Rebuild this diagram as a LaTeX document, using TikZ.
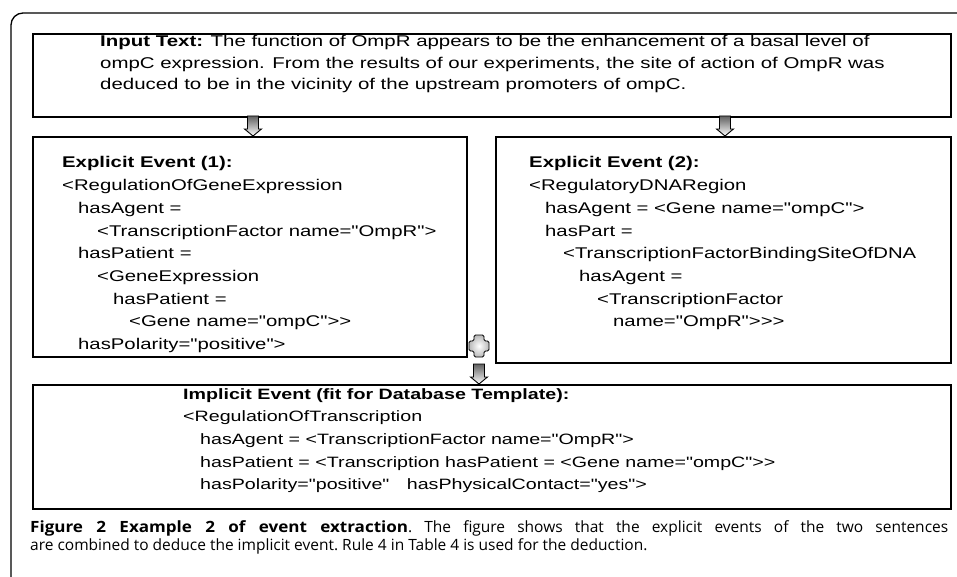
\documentclass[tikz,border=0pt]{standalone}
\usepackage{fontspec}
\setmainfont{Liberation Sans}[Ligatures=TeXOff, FakeStretch=1.31]
\newfontfamily\capfont{Open Sans}
\usetikzlibrary{calc}
\newcommand\ind[1]{\hspace*{#1pt}}
\begin{document}
\begin{tikzpicture}[x=1pt,y=-1pt,
  box/.style={draw=black, line width=1.8pt, inner sep=0pt, anchor=north west},
  txt/.style={anchor=base west, inner sep=0pt, font=\fontsize{15.5}{22.7}\selectfont},
  captxt/.style={anchor=base west, inner sep=0pt, font=\capfont\fontsize{15.5}{18}\selectfont\frenchspacing},
  blockdown/.pic={
    \shade[draw=black, line width=0.9pt, top color=gray!75!black, bottom color=white]
      (-5.5,0) -- (5.5,0) -- (5.5,13) -- (8.5,13) -- (0,20) -- (-8.5,13) -- (-5.5,13) -- cycle;
  },
  plussign/.pic={
    \shade[draw=black, line width=0.9pt, inner color=white, outer color=gray!55, rounded corners=1.5pt]
      (-5,-11) -- (5,-11) -- (5,-5) -- (10,-5) -- (10,5) -- (5,5) -- (5,11) -- (-5,11) -- (-5,5)
      -- (-10,5) -- (-10,-5) -- (-5,-5) -- cycle;
  }]
\useasboundingbox (0,0) rectangle (957,577);
% outer frame
\draw[line width=1.3pt, rounded corners=12pt] (11,577) -- (11,13) -- (957,13);

% boxes
\node[box, minimum width=918pt, minimum height=83pt] (input) at (32,33) {};
\node[box, minimum width=434pt, minimum height=220pt] (e1) at (32,136) {};
\node[box, minimum width=455pt, minimum height=226pt] (e2) at (495,136) {};
\node[box, minimum width=918pt, minimum height=124pt] (impl) at (32,384) {};

% texts
\node[txt] (t0) at (100,47) {\parbox[t]{840pt}{\fontsize{15.6}{21.5}\selectfont\raggedright
  \textbf{Input Text:} The function of OmpR appears to be the enhancement of a basal level of\\
  ompC expression. From the results of our experiments, the site of action of OmpR was\\
  deduced to be in the vicinity of the upstream promoters of ompC.}};

\node[txt] (t1) at (62,168) {\parbox[t]{400pt}{\raggedright
  \textbf{Explicit Event (1):}\\
  <RegulationOfGeneExpression\\
  \ind{16}hasAgent =\\
  \ind{35}<TranscriptionFactor name="OmpR">\\
  \ind{16}hasPatient =\\
  \ind{35}<GeneExpression\\
  \ind{51}hasPatient =\\
  \ind{67}<Gene name="ompC">>\\
  \ind{16}hasPolarity="positive">}};

\node[txt] (t2) at (529,168) {\parbox[t]{410pt}{\raggedright
  \textbf{Explicit Event (2):}\\
  <RegulatoryDNARegion\\
  \ind{16}hasAgent = <Gene name="ompC">\\
  \ind{16}hasPart =\\
  \ind{34}<TranscriptionFactorBindingSiteOfDNA\\
  \ind{50}hasAgent =\\
  \ind{68}<TranscriptionFactor\\
  \ind{84}name="OmpR">>>}};

\node[txt] (t3) at (183,399) {\parbox[t]{740pt}{\fontsize{15}{22.7}\selectfont\raggedright
  \textbf{Implicit Event (fit for Database Template):}\\
  <RegulationOfTranscription\\
  \ind{17}hasAgent = <TranscriptionFactor name="OmpR">\\
  \ind{17}hasPatient = <Transcription hasPatient = <Gene name="ompC">>\\
  \ind{17}hasPolarity="positive"\hspace{12pt} hasPhysicalContact="yes">}};

% arrows
\pic at (253,116) {blockdown};
\pic at (725,116) {blockdown};
\pic at (479,346) {plussign};
\pic at (479,364) {blockdown};

% caption
\node[captxt] (c1) at (30,532) {\makebox[918pt][s]{{\bfseries\addfontfeatures{FakeStretch=1.1}Figure 2 Example 2 of event extraction}. The figure shows that the explicit events of the two sentences}};
\node[captxt] (c2) at (30,550) {are combined to deduce the implicit event. Rule 4 in Table 4 is used for the deduction.};
\end{tikzpicture}
\end{document}
